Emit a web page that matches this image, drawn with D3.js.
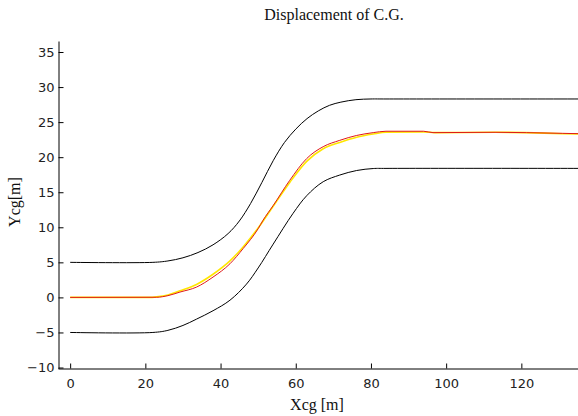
<!DOCTYPE html>
<html>
<head>
<meta charset="utf-8">
<script src="https://cdn.jsdelivr.net/npm/d3@7"></script>
<style>
  html, body { margin: 0; padding: 0; background: #fff; overflow: hidden; }
  svg { display: block; }
</style>
</head>
<body>
<svg id="chart" width="578" height="416"></svg>
<script>
// Lane boundaries, reference path and measured C.G. path, [x, y] in metres
const upperBound = [[0,5],[22,5],[26,5.2],[30,5.65],[34,6.4],[38,7.5],[42,9.1],[45,10.9],[48,13.4],[51,16.4],[54,19.5],[57,22.1],[60,24.0],[63,25.5],[66,26.6],[69,27.4],[72,27.85],[76,28.2],[80,28.3],[84,28.3],[140,28.3]];
const lowerBound = [[0,-5],[22,-5],[26,-4.7],[30,-4.0],[33.6,-3.1],[38,-1.9],[42.5,-0.4],[46.9,1.9],[50,4.2],[54,7.6],[59.3,12.0],[62.9,14.5],[67.3,16.5],[71.7,17.45],[76.2,18.1],[80.6,18.38],[84,18.4],[140,18.4]];
const refPath = [[0,0],[21,0],[23,0.08],[26,0.35],[29.2,0.95],[33.6,1.85],[38,3.3],[42.5,5.2],[46,7.2],[50,9.9],[54,13.0],[58.4,16.4],[62.9,19.4],[67.3,21.2],[71.7,22.1],[76.2,22.85],[80.6,23.3],[84,23.55],[94,23.6],[97,23.5],[113,23.55],[121,23.5],[131,23.35],[140,23.3]];
const cgPath = [[0,0],[23,0.02],[26,0.25],[29.2,0.76],[33.6,1.47],[38,2.9],[42.5,4.8],[46,6.96],[50,9.8],[51.3,11.0],[54,13.1],[58.4,16.7],[62.9,19.8],[67.3,21.5],[71.7,22.4],[76.2,23.1],[80.6,23.5],[84,23.7],[94,23.7],[96.5,23.5],[113,23.55],[121.4,23.5],[131,23.4],[140,23.3]];

const xTicks = [0, 20, 40, 60, 80, 100, 120];
const yTicks = [-10, -5, 0, 5, 10, 15, 20, 25, 30, 35];

const titleText = "Displacement of C.G.";
const xLabelText = "Xcg [m]";
const yLabelText = "Ycg[m]";

const svg = d3.select("#chart");

const x = d3.scaleLinear().domain([-3.1, 140]).range([58.5, 58.5 + 143.1 * 3.76]);
const y = d3.scaleLinear().domain([-10.14, 36.57]).range([368.5, 41]);

const tickFont = "'DejaVu Sans', sans-serif";
const serif = "'Liberation Serif', 'Times New Roman', serif";

// Curves: smooth splines for the boundaries, monotone for the paths
const smooth = d3.line().x(d => x(d[0])).y(d => y(d[1])).curve(d3.curveCatmullRom.alpha(0.5));
const mono = d3.line().x(d => x(d[0])).y(d => y(d[1])).curve(d3.curveMonotoneX);
const plot = svg.append("g");
plot.append("path").datum(upperBound).attr("d", smooth)
  .attr("fill", "none").attr("stroke", "#000").attr("stroke-width", 1);
plot.append("path").datum(lowerBound).attr("d", smooth)
  .attr("fill", "none").attr("stroke", "#000").attr("stroke-width", 1);
plot.append("path").datum(refPath).attr("d", mono)
  .attr("fill", "none").attr("stroke", "#ffe600").attr("stroke-width", 1.6);
plot.append("path").datum(cgPath).attr("d", mono)
  .attr("fill", "none").attr("stroke", "#e01818").attr("stroke-width", 1);

// Axes with inward ticks
const xAxis = d3.axisBottom(x).tickValues(xTicks).tickSizeInner(-5).tickSizeOuter(0).tickPadding(10);
const gx = svg.append("g").attr("transform", `translate(0,${y.range()[0]})`).call(xAxis);
gx.select(".domain").attr("d", `M${x.range()[0]},0.5H578`).attr("stroke", "#000");
gx.selectAll(".tick line").attr("stroke", "#000");
gx.selectAll(".tick text").attr("font-family", tickFont).attr("font-size", 13).attr("fill", "#222").attr("dy", "0.75em");

const yAxis = d3.axisLeft(y).tickValues(yTicks).tickSizeInner(-5).tickSizeOuter(0).tickPadding(4);
const gy = svg.append("g").attr("transform", `translate(${x.range()[0]},0)`).call(yAxis);
gy.select(".domain").attr("stroke", "#000");
gy.selectAll(".tick line").attr("stroke", "#000");
gy.selectAll(".tick text").attr("font-family", tickFont).attr("font-size", 13).attr("fill", "#222");

// Title and axis labels
svg.append("text").attr("x", 334).attr("y", 20).attr("text-anchor", "middle")
  .attr("font-family", serif).attr("font-size", 16).attr("fill", "#111").text(titleText);
svg.append("text").attr("x", 317).attr("y", 410).attr("text-anchor", "middle")
  .attr("font-family", serif).attr("font-size", 16).attr("fill", "#111").text(xLabelText);
svg.append("text").attr("transform", "translate(20,202) rotate(-90)").attr("text-anchor", "middle")
  .attr("font-family", serif).attr("font-size", 16).attr("fill", "#111").text(yLabelText);
</script>
</body>
</html>
